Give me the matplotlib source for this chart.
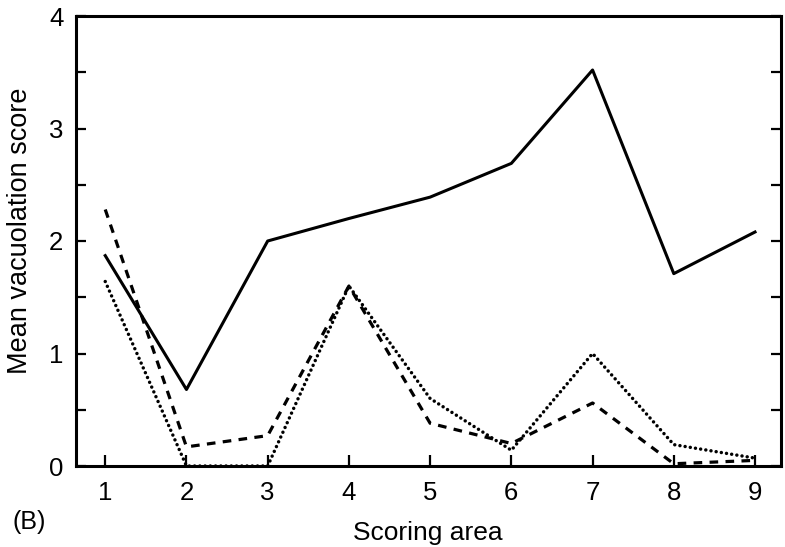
import matplotlib
matplotlib.use("Agg")
import matplotlib.pyplot as plt
from matplotlib.ticker import MultipleLocator

plt.rcParams['font.family'] = ['Liberation Sans', 'DejaVu Sans']

areas = [1, 2, 3, 4, 5, 6, 7, 8, 9]
solid_vals = [1.87, 0.68, 2.00, 2.20, 2.39, 2.69, 3.52, 1.71, 2.08]
dashed_vals = [2.28, 0.17, 0.27, 1.60, 0.38, 0.20, 0.56, 0.02, 0.05]
dotted_vals = [1.64, 0.00, 0.00, 1.60, 0.60, 0.14, 1.00, 0.19, 0.07]
xtick_labels = ['1', '2', '3', '4', '5', '6', '7', '8', '9']
ytick_vals = [0, 1, 2, 3, 4]

W, H = 785, 547
fig = plt.figure(figsize=(W / 100, H / 100), dpi=100)
ax = fig.add_axes([76 / W, 1 - 466 / H, (781 - 76) / W, (466 - 16) / H])

ax.plot(areas, solid_vals, color='black', lw=2.2, ls='-')
ax.plot(areas, dashed_vals, color='black', lw=2.3, ls=(0, (2.7, 2.3)))
ax.plot(areas, dotted_vals, color='black', lw=2.5, ls=(0, (0.01, 1.5)),
        dash_capstyle='round')

ax.set_xlim(0.64, 9.32)
ax.set_ylim(0, 4)
ax.set_xticks(areas)
ax.set_xticklabels(xtick_labels)
ax.set_yticks(ytick_vals)
ax.yaxis.set_minor_locator(MultipleLocator(0.5))

for s in ax.spines.values():
    s.set_linewidth(2.2)

ax.tick_params(axis='both', which='both', direction='in', width=1.6, labelsize=18.5)
ax.tick_params(axis='y', which='both', right=True, length=7)
ax.tick_params(axis='x', which='major', length=8, pad=11)
ax.tick_params(axis='y', which='major', pad=9)

fig.text(428 / W, 1 - 540 / H, 'Scoring area', fontsize=19, ha='center', va='baseline')
fig.text(20 / W, 1 - 231 / H, 'Mean vacuolation score', fontsize=19.5,
         ha='center', va='center', rotation=90)
fig.text(12 / W, 1 - 522 / H, '(B)', fontsize=18, va='center', ha='left')

fig.savefig('out.png', dpi=100)
